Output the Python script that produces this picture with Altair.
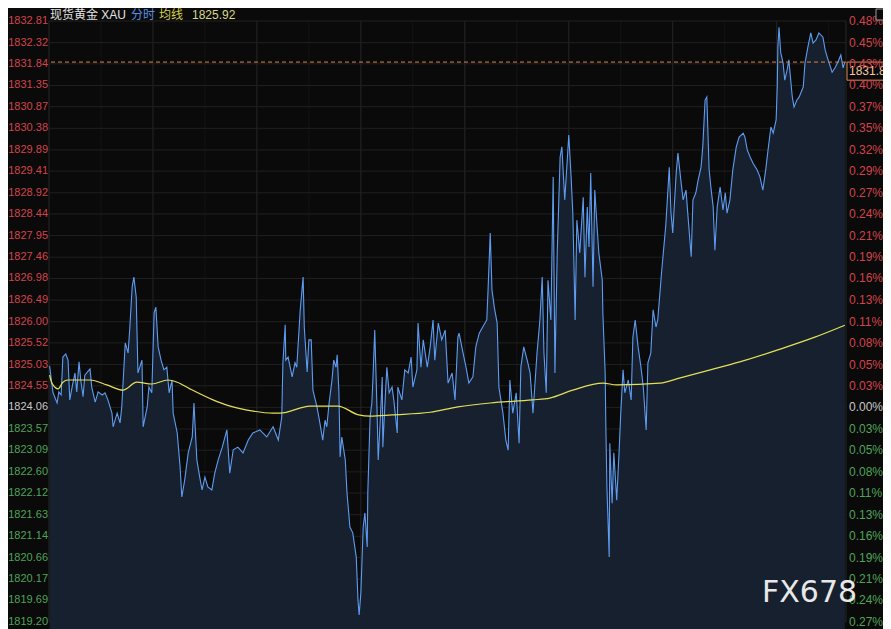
import altair as alt
import pandas as pd

W, H = 797, 601
PREV_CLOSE = 1824.06
Y_MIN, Y_MAX = 1819.20, 1832.81
T_MAX = 1380  # minutes in session

left_labels = ["1832.81", "1832.32", "1831.84", "1831.35", "1830.87", "1830.38", "1829.89",
               "1829.41", "1828.92", "1828.44", "1827.95", "1827.46", "1826.98", "1826.49",
               "1826.00", "1825.52", "1825.03", "1824.55", "1824.06", "1823.57", "1823.09",
               "1822.60", "1822.12", "1821.63", "1821.14", "1820.66", "1820.17", "1819.69",
               "1819.20"]
right_labels = ["0.48%", "0.45%", "0.43%", "0.40%", "0.37%", "0.35%", "0.32%", "0.29%",
                "0.27%", "0.24%", "0.21%", "0.19%", "0.16%", "0.13%", "0.11%", "0.08%",
                "0.05%", "0.03%", "0.00%", "0.03%", "0.05%", "0.08%", "0.11%", "0.13%",
                "0.16%", "0.19%", "0.21%", "0.24%", "0.27%"]

price_t = [1, 7, 14, 17, 21, 24, 29, 33, 36, 40, 45, 48, 52, 55, 59, 62, 71, 74, 80, 85, 92, 97,
           102, 109, 111, 118, 123, 126, 132, 137, 140, 144, 147, 151, 154, 161, 163, 170, 173,
           178, 182, 185, 189, 194, 199, 204, 208, 213, 215, 222, 227, 230, 235, 241, 248, 251,
           256, 261, 265, 270, 275, 282, 287, 293, 300, 308, 313, 319, 327, 336, 345, 353, 365,
           377, 388, 397, 403, 405, 409, 410, 414, 421, 426, 429, 435, 440, 442, 447, 450, 454,
           457, 464, 469, 474, 478, 481, 485, 490, 493, 497, 499, 502, 504, 507, 513, 516, 521,
           526, 532, 535, 537, 540, 544, 547, 551, 552, 556, 559, 561, 564, 568, 570, 573, 577,
           578, 582, 585, 589, 594, 597, 603, 604, 611, 616, 622, 627, 630, 637, 639, 644, 648,
           655, 660, 665, 668, 674, 680, 686, 691, 698, 703, 708, 710, 717, 722, 727, 734, 739,
           745, 751, 758, 760, 764, 767, 771, 776, 779, 786, 791, 795, 798, 803, 809, 814, 817,
           822, 828, 833, 838, 845, 850, 854, 857, 861, 864, 869, 873, 876, 880, 885, 888, 893,
           897, 900, 904, 907, 911, 914, 919, 925, 928, 932, 935, 938, 942, 945, 949, 952, 958,
           959, 963, 964, 966, 970, 971, 975, 978, 983, 987, 990, 994, 997, 1003, 1008, 1011,
           1015, 1020, 1025, 1029, 1034, 1037, 1042, 1046, 1051, 1054, 1061, 1068, 1074, 1077,
           1080, 1086, 1089, 1094, 1098, 1103, 1106, 1112, 1115, 1120, 1124, 1129, 1132, 1136,
           1139, 1143, 1146, 1150, 1153, 1157, 1162, 1167, 1171, 1174, 1179, 1184, 1190, 1195,
           1202, 1205, 1209, 1214, 1219, 1226, 1231, 1236, 1241, 1245, 1250, 1254, 1259, 1261,
           1262, 1264, 1267, 1271, 1274, 1278, 1281, 1287, 1290, 1295, 1299, 1306, 1309, 1314,
           1319, 1323, 1328, 1333, 1340, 1344, 1349, 1356, 1361, 1366, 1371, 1375, 1378]
price_v = [1825.00, 1824.39, 1824.16, 1824.41, 1824.34, 1825.20, 1825.27, 1825.13, 1824.23,
           1824.52, 1824.84, 1824.41, 1825.09, 1824.68, 1824.30, 1824.79, 1824.93, 1824.52,
           1824.18, 1824.41, 1824.34, 1824.39, 1824.23, 1823.93, 1823.62, 1823.93, 1823.71,
           1824.07, 1825.52, 1825.29, 1825.88, 1826.79, 1827.01, 1826.56, 1824.84, 1825.13,
           1823.62, 1824.07, 1824.52, 1824.39, 1826.20, 1826.33, 1825.43, 1825.13, 1824.91,
           1824.97, 1824.39, 1824.68, 1823.93, 1823.48, 1822.71, 1822.03, 1822.42, 1823.03,
           1823.39, 1824.16, 1822.87, 1822.48, 1822.19, 1822.48, 1822.26, 1822.19, 1822.57,
           1822.87, 1823.16, 1823.55, 1822.57, 1823.10, 1823.16, 1823.03, 1823.32, 1823.48,
           1823.55, 1823.39, 1823.62, 1823.32, 1823.84, 1825.07, 1825.93, 1825.13, 1825.20,
           1824.75, 1825.07, 1824.97, 1826.27, 1827.01, 1825.88, 1824.86, 1825.59, 1825.59,
           1824.45, 1824.07, 1823.71, 1823.32, 1823.77, 1823.62, 1824.16, 1824.68, 1825.13,
           1824.97, 1825.25, 1824.39, 1822.94, 1823.39, 1822.87, 1822.12, 1821.35, 1821.22,
           1820.67, 1819.70, 1819.36, 1819.86, 1821.35, 1821.67, 1820.90, 1822.12, 1823.84,
           1824.16, 1824.75, 1825.81, 1824.00, 1822.87, 1823.62, 1824.75, 1823.16, 1824.23,
           1824.97, 1824.39, 1824.52, 1824.23, 1823.48, 1824.52, 1824.23, 1824.91, 1824.84,
           1825.20, 1824.52, 1824.91, 1825.97, 1824.97, 1825.59, 1824.97, 1825.43, 1826.04,
           1825.13, 1825.97, 1825.59, 1825.81, 1824.61, 1824.84, 1824.23, 1825.65, 1825.74,
           1825.29, 1824.97, 1824.61, 1824.75, 1825.43, 1825.74, 1825.88, 1826.04, 1826.65,
           1828.01, 1826.72, 1826.33, 1825.97, 1824.52, 1823.93, 1823.32, 1823.09, 1824.68,
           1823.93, 1824.39, 1823.25, 1824.97, 1825.43, 1825.13, 1824.84, 1823.93, 1825.29,
           1826.04, 1827.01, 1825.29, 1824.39, 1826.94, 1826.04, 1829.28, 1824.84, 1827.56,
           1829.73, 1829.96, 1828.76, 1829.59, 1830.23, 1829.28, 1828.46, 1826.04, 1828.30,
           1827.56, 1828.82, 1827.01, 1828.60, 1827.69, 1829.37, 1826.79, 1828.98, 1828.15,
           1827.56, 1826.94, 1826.20, 1824.84, 1823.77, 1822.26, 1820.67, 1823.25, 1821.89,
           1823.03, 1821.96, 1823.03, 1823.93, 1824.91, 1824.39, 1824.68, 1824.23, 1825.65,
           1826.04, 1825.43, 1824.97, 1824.52, 1823.55, 1825.07, 1825.29, 1826.27, 1825.88,
           1826.04, 1827.17, 1828.19, 1829.50, 1828.46, 1828.01, 1829.37, 1829.82, 1829.21,
           1828.76, 1828.98, 1828.46, 1827.47, 1828.76, 1828.92, 1829.21, 1829.50, 1829.96,
           1831.02, 1831.09, 1829.44, 1829.05, 1828.60, 1827.62, 1828.60, 1829.05, 1828.53,
           1828.92, 1828.46, 1828.76, 1829.44, 1829.96, 1830.18, 1830.27, 1830.18, 1829.89,
           1829.73, 1829.59, 1829.44, 1829.28, 1828.98, 1829.44, 1829.89, 1830.41, 1830.27,
           1830.57, 1831.32, 1832.22, 1832.67, 1832.09, 1831.86, 1831.47, 1831.70, 1831.93,
           1831.09, 1830.86, 1831.02, 1831.09, 1831.32, 1831.86, 1832.22, 1832.54, 1832.31,
           1832.38, 1832.54, 1832.45, 1832.15, 1831.93, 1831.65, 1831.75, 1831.88, 1832.04,
           1831.75, 1831.88]

avg_t = [1, 5, 16, 24, 33, 71, 100, 128, 152, 178, 206, 222, 244, 284, 308, 343, 388, 400, 452,
         500, 536, 556, 594, 660, 708, 764, 837, 867, 907, 959, 983, 1058, 1093, 1145, 1196,
         1266, 1326, 1378]
avg_v = [1824.79, 1824.61, 1824.48, 1824.63, 1824.68, 1824.68, 1824.57, 1824.45, 1824.63,
         1824.59, 1824.68, 1824.63, 1824.48, 1824.23, 1824.11, 1824.00, 1823.93, 1823.93,
         1824.09, 1824.09, 1823.89, 1823.86, 1823.89, 1823.95, 1824.07, 1824.16, 1824.23,
         1824.27, 1824.45, 1824.61, 1824.57, 1824.61, 1824.73, 1824.91, 1825.09, 1825.38,
         1825.65, 1825.92]

major_t = [0, 180, 360, 540, 720, 900, 1080, 1260, 1380]
minor_t = [90, 270, 450, 630, 810, 990, 1170, 1350]

last_price = 1831.88
avg_last = "1825.92"

RED, GREEN, GRAY = "#d4434b", "#4ea458", "#c8c8c8"
LAT = "Liberation Sans"
CJK = "Noto Sans CJK SC"

ticks = pd.DataFrame({"left": left_labels, "right": right_labels})
ticks["value"] = ticks["left"].astype(float)
ticks["dir"] = ["up" if v > PREV_CLOSE + 0.005 else ("down" if v < PREV_CLOSE - 0.005 else "flat")
                for v in ticks["value"]]

price_df = pd.DataFrame({"t": price_t, "p": price_v})
avg_df = pd.DataFrame({"t": avg_t, "p": avg_v})
major_df = pd.DataFrame({"t": major_t})
minor_df = pd.DataFrame({"t": minor_t})
last_df = pd.DataFrame({"p": [last_price], "p2": [last_price - 0.41], "lab": [f"{last_price:.2f}"]})

xs = alt.Scale(domain=[0, T_MAX], nice=False, zero=False)
ys = alt.Scale(domain=[Y_MIN, Y_MAX], nice=False, zero=False)
X = lambda f: alt.X(f, scale=xs, axis=None)
Y = lambda f: alt.Y(f, scale=ys, axis=None)
dir_color = alt.Color("dir:N", scale=alt.Scale(domain=["up", "flat", "down"],
                                               range=[RED, GRAY, GREEN]), legend=None)

hgrid = alt.Chart(ticks).mark_rule(color="#202020", strokeWidth=1).encode(y=Y("value:Q"))
vmajor = alt.Chart(major_df).mark_rule(color="#262626", strokeWidth=1).encode(x=X("t:Q"))
vminor = alt.Chart(minor_df).mark_rule(color="#141414", strokeWidth=1).encode(x=X("t:Q"))

area = alt.Chart(price_df).mark_area(
    color=alt.Gradient(gradient="linear",
                       stops=[alt.GradientStop(color="#16202f", offset=0),
                              alt.GradientStop(color="#0e1219", offset=1)],
                       x1=1, x2=1, y1=0, y2=1)
).encode(x=X("t:Q"), y=Y("p:Q"), y2=alt.value(H))

line = alt.Chart(price_df).mark_line(color="#5e9cf0", strokeWidth=1.1).encode(
    x=X("t:Q"), y=Y("p:Q"))
avg = alt.Chart(avg_df).mark_line(color="#e4e055", strokeWidth=1.2, interpolate="monotone").encode(
    x=X("t:Q"), y=Y("p:Q"))

dash = alt.Chart(last_df).mark_rule(color="#d98552", strokeDash=[4, 3], strokeWidth=1).encode(
    y=Y("p:Q"))
box = alt.Chart(last_df).mark_rect(fill="#0a0a0a", stroke="#e08a4e", strokeWidth=1).encode(
    x=alt.value(W + 1), x2=alt.value(W + 60), y=Y("p:Q"), y2="p2:Q")
box_text = alt.Chart(last_df).mark_text(align="left", baseline="middle", font=LAT, fontSize=12,
                                        color="#f2c8a2", dy=9).encode(
    x=alt.value(W + 3), y=Y("p:Q"), text="lab:N")

left_txt = alt.Chart(ticks).mark_text(align="right", baseline="middle", font=LAT,
                                      fontSize=11).encode(
    x=alt.value(-1), y=Y("value:Q"), text="left:N", color=dir_color)
right_txt = alt.Chart(ticks).mark_text(align="left", baseline="middle", font=LAT,
                                       fontSize=12).encode(
    x=alt.value(W + 3), y=Y("value:Q"), text="right:N", color=dir_color)

hdr = pd.DataFrame({"s": ["现货黄金 XAU", "分时", "均线", avg_last],
                    "c": ["#e2e2e2", "#5b8fe0", "#d8d24a", "#d8d888"]})
hx = [1, 82, 110, 143]
header_layers = []
for i in range(4):
    header_layers.append(
        alt.Chart(hdr.iloc[[i]]).mark_text(align="left", baseline="middle",
                                           font=f"{LAT}, {CJK}", fontSize=12,
                                           color=hdr["c"][i]).encode(
            x=alt.value(hx[i]), y=alt.value(-6), text="s:N"))

wm = alt.Chart(pd.DataFrame({"s": ["FX678"]})).mark_text(
    align="left", baseline="middle", font="DejaVu Sans", fontSize=30, color="#e8e8e8"
).encode(x=alt.value(713), y=alt.value(572), text="s:N")

icon = alt.Chart(pd.DataFrame({"a": [0]})).mark_rect(fill="#0a0a0a", stroke="#9a9a9a",
                                                     strokeWidth=1).encode(
    x=alt.value(W + 30), x2=alt.value(W + 44), y=alt.value(-12), y2=alt.value(-1))

chart = alt.layer(
    vminor, vmajor, hgrid, area, line, avg, dash, box, box_text,
    left_txt, right_txt, wm, icon, *header_layers
).properties(
    width=W, height=H,
    padding={"left": 41, "top": 13, "right": 37, "bottom": 7},
    autosize=alt.AutoSizeParams(type="none"),
    background="#0a0a0a",
).configure_view(strokeWidth=0)

chart.save("out.html", embed_options={"renderer": "svg", "actions": False})
